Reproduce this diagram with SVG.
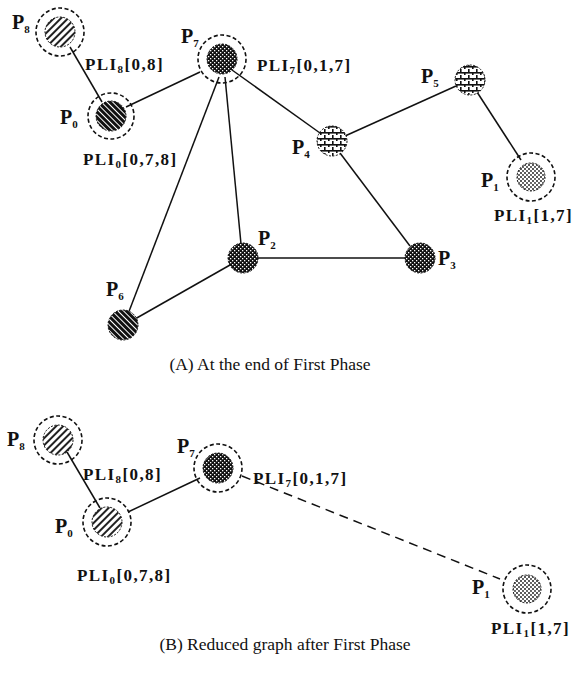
<svg xmlns="http://www.w3.org/2000/svg" width="573" height="675" viewBox="0 0 573 675">
<style>
.lbl{font-family:"Liberation Serif","Times New Roman",serif;font-weight:bold;font-size:20px;fill:#111}
.pli{font-family:"Liberation Serif","Times New Roman",serif;font-weight:bold;font-size:17px;letter-spacing:1.4px;fill:#111}
.cap{font-family:"Liberation Serif","Times New Roman",serif;font-size:17.5px;fill:#111}
.sub{font-size:11px}
.ring{fill:none;stroke:#111;stroke-width:1.6;stroke-dasharray:4 2.5}
.edge{stroke:#111;stroke-width:1.5;fill:none}
.dash{stroke:#111;stroke-width:1.5;fill:none;stroke-dasharray:9 6}
.core{stroke:#111;stroke-width:1;stroke-dasharray:2 1.5}
</style>
<defs>
<pattern id="hatch" width="5" height="5" patternUnits="userSpaceOnUse" patternTransform="rotate(45)">
<rect width="5" height="5" fill="#fff"/><rect width="2" height="5" fill="#222"/>
</pattern>
<pattern id="hatchDark" width="4" height="4" patternUnits="userSpaceOnUse" patternTransform="rotate(-45)">
<rect width="4" height="4" fill="#fff"/><rect width="3" height="4" fill="#111"/>
</pattern>
<pattern id="mottle" width="4" height="4" patternUnits="userSpaceOnUse">
<rect width="4" height="4" fill="#111"/><rect x="0" y="0" width="1.3" height="1.3" fill="#fff"/><rect x="2" y="2" width="1.3" height="1.3" fill="#fff"/>
</pattern>
<pattern id="grid" width="8" height="6" patternUnits="userSpaceOnUse">
<rect width="8" height="6" fill="#fff"/><rect y="0" width="8" height="1.6" fill="#111"/><rect x="0" y="0" width="1.6" height="3" fill="#111"/><rect x="4" y="3" width="1.6" height="3" fill="#111"/>
</pattern>
<pattern id="dots" width="4" height="4" patternUnits="userSpaceOnUse">
<rect width="4" height="4" fill="#fff"/><circle cx="1" cy="1" r="1" fill="#222"/><circle cx="3" cy="3" r="0.9" fill="#222"/>
</pattern>
</defs>

<g id="connectors">
<line class="edge" x1="70" y1="47" x2="102" y2="102"/>
<line class="edge" x1="126" y1="107" x2="200" y2="72"/>
<line class="edge" x1="232" y1="70" x2="320" y2="133"/>
<line class="edge" x1="219" y1="77" x2="128" y2="314"/>
<line class="edge" x1="225" y1="77" x2="241" y2="244"/>
<line class="edge" x1="135" y1="319" x2="230" y2="265"/>
<line class="edge" x1="258" y1="258" x2="405" y2="258"/>
<line class="edge" x1="340" y1="153" x2="410" y2="246"/>
<line class="edge" x1="345" y1="136" x2="456" y2="86"/>
<line class="edge" x1="477" y1="92" x2="521" y2="160"/>
<line class="edge" x1="67" y1="452" x2="100" y2="508"/>
<line class="edge" x1="128" y1="512" x2="200" y2="478"/>
<line class="dash" x1="242" y1="476" x2="500" y2="579"/>
</g>

<g id="A-P8">
<circle class="ring" cx="60" cy="32" r="24"/>
<circle class="core" cx="60" cy="32" r="15" fill="url(#hatch)"/>
<text class="lbl" x="12" y="29">P<tspan class="sub" dy="4">8</tspan></text>
<text class="pli" x="85" y="70">PLI<tspan class="sub" dy="3">8</tspan><tspan dy="-3">[0,8]</tspan></text>
</g>
<g id="A-P0">
<circle class="ring" cx="111" cy="116" r="23"/>
<circle class="core" cx="111" cy="116" r="15" fill="url(#hatchDark)"/>
<text class="lbl" x="60" y="124">P<tspan class="sub" dy="4">0</tspan></text>
<text class="pli" x="83" y="165">PLI<tspan class="sub" dy="3">0</tspan><tspan dy="-3">[0,7,8]</tspan></text>
</g>
<g id="A-P7">
<circle class="ring" cx="222" cy="59" r="24"/>
<circle class="core" cx="222" cy="59" r="15" fill="url(#mottle)"/>
<text class="lbl" x="181" y="43">P<tspan class="sub" dy="4">7</tspan></text>
<text class="pli" x="257" y="71">PLI<tspan class="sub" dy="3">7</tspan><tspan dy="-3">[0,1,7]</tspan></text>
</g>
<g id="A-P4">
<circle class="core" cx="332" cy="141" r="15" fill="url(#grid)"/>
<text class="lbl" x="292" y="154">P<tspan class="sub" dy="4">4</tspan></text>
</g>
<g id="A-P5">
<circle class="core" cx="470" cy="80" r="15" fill="url(#grid)"/>
<text class="lbl" x="421" y="83">P<tspan class="sub" dy="4">5</tspan></text>
</g>
<g id="A-P1">
<circle class="ring" cx="531" cy="177" r="24"/>
<circle class="core" cx="531" cy="177" r="14" fill="url(#dots)"/>
<text class="lbl" x="481" y="187">P<tspan class="sub" dy="4">1</tspan></text>
<text class="pli" x="494" y="221">PLI<tspan class="sub" dy="3">1</tspan><tspan dy="-3">[1,7]</tspan></text>
</g>
<g id="A-P2">
<circle class="core" cx="243" cy="258" r="15" fill="url(#mottle)"/>
<text class="lbl" x="258" y="245">P<tspan class="sub" dy="4">2</tspan></text>
</g>
<g id="A-P3">
<circle class="core" cx="420" cy="258" r="15" fill="url(#mottle)"/>
<text class="lbl" x="438" y="265">P<tspan class="sub" dy="4">3</tspan></text>
</g>
<g id="A-P6">
<circle class="core" cx="123" cy="325" r="15" fill="url(#hatchDark)"/>
<text class="lbl" x="106" y="296">P<tspan class="sub" dy="4">6</tspan></text>
</g>
<text class="cap" x="270" y="370" text-anchor="middle">(A) At the end of First Phase</text>

<g id="B-P8">
<circle class="ring" cx="58" cy="440" r="24"/>
<circle class="core" cx="58" cy="440" r="15" fill="url(#hatch)"/>
<text class="lbl" x="7" y="446">P<tspan class="sub" dy="4">8</tspan></text>
<text class="pli" x="83" y="480">PLI<tspan class="sub" dy="3">8</tspan><tspan dy="-3">[0,8]</tspan></text>
</g>
<g id="B-P0">
<circle class="ring" cx="107" cy="522" r="24"/>
<circle class="core" cx="107" cy="522" r="15" fill="url(#hatch)"/>
<text class="lbl" x="55" y="533">P<tspan class="sub" dy="4">0</tspan></text>
<text class="pli" x="77" y="581">PLI<tspan class="sub" dy="3">0</tspan><tspan dy="-3">[0,7,8]</tspan></text>
</g>
<g id="B-P7">
<circle class="ring" cx="218" cy="468" r="24"/>
<circle class="core" cx="218" cy="468" r="15" fill="url(#mottle)"/>
<text class="lbl" x="177" y="453">P<tspan class="sub" dy="4">7</tspan></text>
<text class="pli" x="253" y="484">PLI<tspan class="sub" dy="3">7</tspan><tspan dy="-3">[0,1,7]</tspan></text>
</g>
<g id="B-P1">
<circle class="ring" cx="527" cy="589" r="24"/>
<circle class="core" cx="527" cy="589" r="14" fill="url(#dots)"/>
<text class="lbl" x="472" y="594">P<tspan class="sub" dy="4">1</tspan></text>
<text class="pli" x="491" y="634">PLI<tspan class="sub" dy="3">1</tspan><tspan dy="-3">[1,7]</tspan></text>
</g>
<text class="cap" x="285" y="650" text-anchor="middle">(B) Reduced graph after First Phase</text>
</svg>
